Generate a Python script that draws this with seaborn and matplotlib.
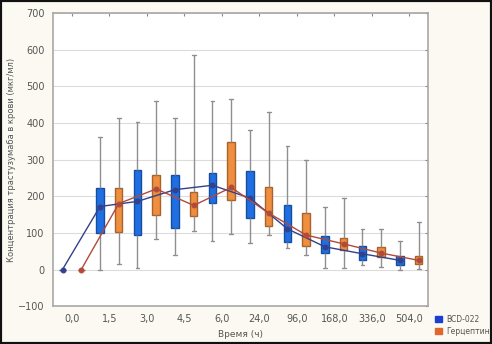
import numpy as np
import pandas as pd
import seaborn as sns
import matplotlib.pyplot as plt
import matplotlib.colors as mcolors

times = ["0,0", "1,5", "3,0", "4,5", "6,0", "24,0", "96,0", "168,0", "336,0", "504,0"]
groups = ["BCD-022", "Герцептин"]

# min, 25%, median, 75%, max
bcd_min = [0, 0, 3, 41, 79, 73, 59, 5, 11, 0]
bcd_q1 = [0, 100, 94, 112, 182, 141, 74, 44, 27, 11]
bcd_med = [0, 172, 186, 218, 230, 195, 111, 62, 43, 25]
bcd_q3 = [0, 223, 272, 257, 263, 268, 177, 91, 64, 38]
bcd_max = [0, 363, 402, 413, 459, 380, 338, 170, 111, 77]

her_min = [0, 16, 84, 106, 98, 95, 41, 5, 7, 2]
her_q1 = [0, 103, 148, 145, 191, 118, 64, 52, 34, 14]
her_med = [0, 180, 220, 175, 224, 154, 94, 70, 45, 25]
her_q3 = [0, 223, 259, 212, 348, 224, 153, 86, 62, 36]
her_max = [0, 413, 459, 586, 465, 430, 298, 195, 111, 129]


def rows(group, stats):
    out = []
    for i, t in enumerate(times):
        for s in stats:
            out.append({"time": t, "group": group, "value": s[i]})
    return out


df = pd.DataFrame(
    rows(groups[0], [bcd_min, bcd_q1, bcd_med, bcd_q3, bcd_max])
    + rows(groups[1], [her_min, her_q1, her_med, her_q3, her_max])
)

sns.set_style("white")
plt.rcParams['font.family'] = ['DejaVu Sans']

fig = plt.figure(figsize=(4.92, 3.44), dpi=100, facecolor="#fbf9f1")
ax = fig.add_axes([0.108, 0.110, 0.762, 0.852])
ax.set_facecolor("white")

box_pal = {"BCD-022": "#1f6fe3", "Герцептин": "#ee8e3e"}
sns.boxplot(data=df, x="time", y="value", hue="group", order=times, hue_order=groups,
            palette=box_pal, saturation=1, whis=(0, 100), width=1.0, gap=0.6,
            fliersize=0, linecolor="#8f8f8f", linewidth=1.0,
            medianprops=dict(linewidth=0), ax=ax)

for p in ax.patches:
    fc = np.array(mcolors.to_rgb(p.get_facecolor()))
    p.set_edgecolor(tuple(fc * 0.7))

line_pal = {"BCD-022": "#34408a", "Герцептин": "#b04a3c"}
sns.pointplot(data=df, x="time", y="value", hue="group", order=times, hue_order=groups,
              estimator=np.median, errorbar=None, dodge=0.5, palette=line_pal,
              markers="o", markersize=3.5, linewidth=1.0, legend=False, ax=ax)

ax.set_ylim(-100, 700)
ax.set_yticks(range(-100, 701, 100))
ax.yaxis.grid(True, color="#dcdcdc", linewidth=0.8)
ax.set_axisbelow(True)
for s in ax.spines.values():
    s.set_visible(True)
    s.set_color("#a8a8a8")
    s.set_linewidth(1.2)
ax.tick_params(direction="in", top=True, right=True, length=2.5, color="#888888",
               labelsize=7, labelcolor="#555555", pad=6)
ax.set_xlabel("Время (ч)", fontsize=6.5, color="#555555", labelpad=4)
ax.set_ylabel("Концентрация трастузумаба в крови (мкг/мл)", fontsize=6, color="#555555", labelpad=2)

leg = ax.legend(loc="lower left", bbox_to_anchor=(0.878, 0.015), bbox_transform=fig.transFigure,
                frameon=False, fontsize=5.5, handlelength=0.9, handleheight=0.9,
                handletextpad=0.6, labelspacing=0.4, borderaxespad=0)
for h, c in zip(leg.legend_handles, ["#1b3fcf", "#e0652e"]):
    h.set_facecolor(c)
    h.set_edgecolor(c)
for t in leg.get_texts():
    t.set_color("#555555")

fig.add_artist(plt.Rectangle((0, 0), 1, 1, transform=fig.transFigure, fill=False,
                             edgecolor="#111111", linewidth=3))

fig.savefig("out.png", dpi=100, facecolor=fig.get_facecolor())
